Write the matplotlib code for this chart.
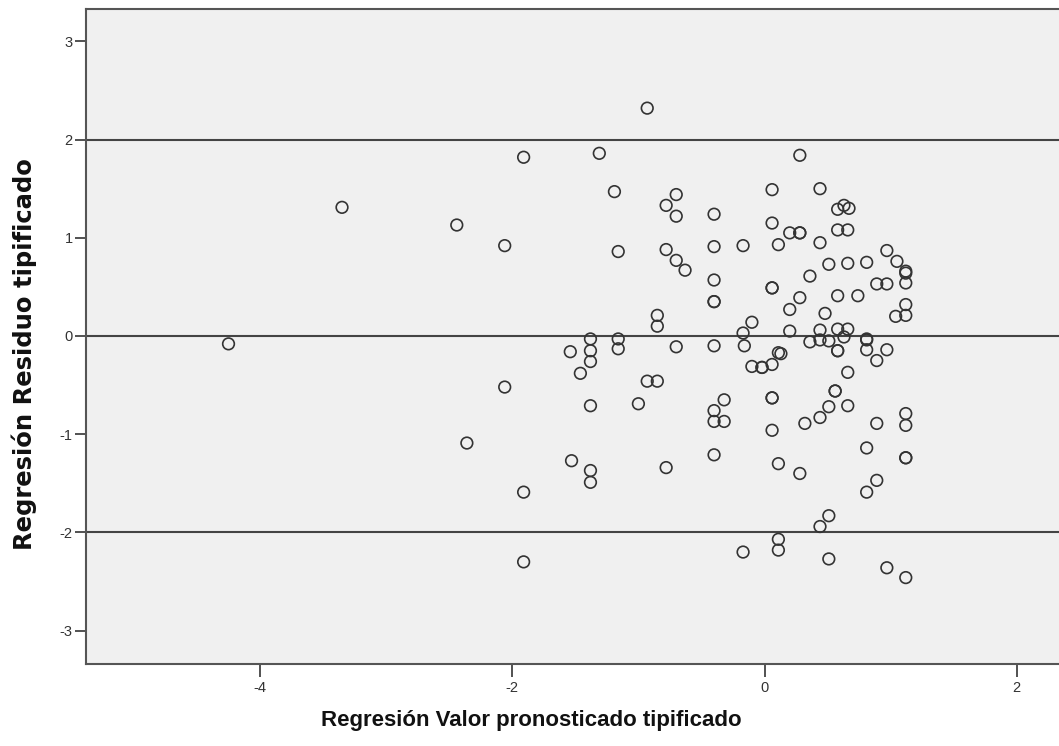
import matplotlib.pyplot as plt
import numpy as np

plt.rcParams['font.family'] = ['Liberation Sans', 'DejaVu Sans']
plt.rcParams['axes.unicode_minus'] = False

# standardized predicted value (x) and standardized residual (y)
pred = [-0.93, -1.91, -1.31, 0.28, -3.35, -2.44, -2.06, -4.25,
        -1.19, -0.70, -0.78, -0.70, -0.40, 0.06, 0.06, 0.11,
        -1.16, -0.78, -0.70, -0.63, -0.40, -0.17, -0.40, -0.40, -0.40,
        0.06, 0.06, -0.85, -0.85, -0.10, -0.17,
        -1.38, -1.16, -1.54, -1.38, -1.16, -0.70, -0.40, -0.16,
        -1.38, -1.46, 0.11, -0.10, -0.02, -0.02, 0.06,
        -0.93, -0.85, -2.06, -1.38, -1.00, -0.32, -0.40, -0.40, -0.32,
        0.06, 0.06, 0.06, 0.11, -2.36, -1.53, -1.38, -1.38, -0.78, -0.40,
        -1.91, -1.91, -0.17, 0.11, 0.11,
        0.44, 0.58, 0.63, 0.67, 0.20, 0.28, 0.28, 0.58, 0.66, 0.44,
        0.97, 1.05, 1.12, 1.12, 0.51, 0.66, 0.81, 0.36, 0.89, 0.97, 1.12,
        0.28, 0.58, 0.74, 0.20, 0.48, 1.12, 1.04, 1.12,
        0.20, 0.44, 0.58, 0.66, 0.63, 0.81, 0.81, 0.36, 0.44, 0.51,
        0.58, 0.58, 0.81, 0.97, 0.89, 0.13, 0.66,
        0.56, 0.56, 0.51, 0.66, 0.44, 0.32, 0.89, 1.12, 1.12, 0.81,
        1.12, 1.12, 0.28, 0.89, 0.81, 0.51, 0.44, 0.51, 0.97, 1.12]
resid = [2.32, 1.82, 1.86, 1.84, 1.31, 1.13, 0.92, -0.08,
         1.47, 1.44, 1.33, 1.22, 1.24, 1.49, 1.15, 0.93,
         0.86, 0.88, 0.77, 0.67, 0.91, 0.92, 0.57, 0.35, 0.35,
         0.49, 0.49, 0.21, 0.10, 0.14, 0.03,
         -0.03, -0.03, -0.16, -0.15, -0.13, -0.11, -0.10, -0.10,
         -0.26, -0.38, -0.17, -0.31, -0.32, -0.32, -0.29,
         -0.46, -0.46, -0.52, -0.71, -0.69, -0.65, -0.76, -0.87, -0.87,
         -0.63, -0.63, -0.96, -1.30, -1.09, -1.27, -1.37, -1.49, -1.34, -1.21,
         -1.59, -2.30, -2.20, -2.07, -2.18,
         1.50, 1.29, 1.33, 1.30, 1.05, 1.05, 1.05, 1.08, 1.08, 0.95,
         0.87, 0.76, 0.66, 0.64, 0.73, 0.74, 0.75, 0.61, 0.53, 0.53, 0.54,
         0.39, 0.41, 0.41, 0.27, 0.23, 0.32, 0.20, 0.21,
         0.05, 0.06, 0.07, 0.07, -0.01, -0.03, -0.04, -0.06, -0.04, -0.05,
         -0.15, -0.15, -0.14, -0.14, -0.25, -0.18, -0.37,
         -0.56, -0.56, -0.72, -0.71, -0.83, -0.89, -0.89, -0.79, -0.91, -1.14,
         -1.24, -1.24, -1.40, -1.47, -1.59, -1.83, -1.94, -2.27, -2.36, -2.46]

ref_lines = [2, 0, -2]

fig = plt.figure(figsize=(10.59, 7.46), dpi=100)
ax = fig.add_axes([0.0812, 0.1099, 0.9188, 0.8781])
ax.set_facecolor('#f0f0f0')

for yv in ref_lines:
    ax.axhline(yv, color='#444444', linewidth=1.5, zorder=1)

ax.scatter(pred, resid, s=70, facecolors='none', edgecolors='#333333',
           linewidths=1.2, zorder=3)

ax.set_xlim(-5.38, 2.335)
ax.set_ylim(-3.34, 3.33)
ax.set_xticks([-4, -2, 0, 2])
ax.set_yticks([-3, -2, -1, 0, 1, 2, 3])

for side in ['left', 'bottom', 'top']:
    ax.spines[side].set_color('#555555')
    ax.spines[side].set_linewidth(1.5)
ax.spines['right'].set_visible(False)

ax.tick_params(axis='both', colors='#333333', labelsize=10.5, width=1.2)
ax.tick_params(axis='y', length=8, pad=1.5)
ax.tick_params(axis='x', length=9, pad=3)

ax.set_xlabel('Regresión Valor pronosticado tipificado', fontsize=16,
              fontweight='bold', color='#111111')
ax.set_ylabel('Regresión Residuo tipificado', fontsize=17.5,
              fontweight='bold', color='#111111', family=['DejaVu Sans'])
ax.xaxis.set_label_coords(0.458, -0.07)
ax.yaxis.set_label_coords(-0.050, 0.473)

fig.savefig('out.png', dpi=100)
